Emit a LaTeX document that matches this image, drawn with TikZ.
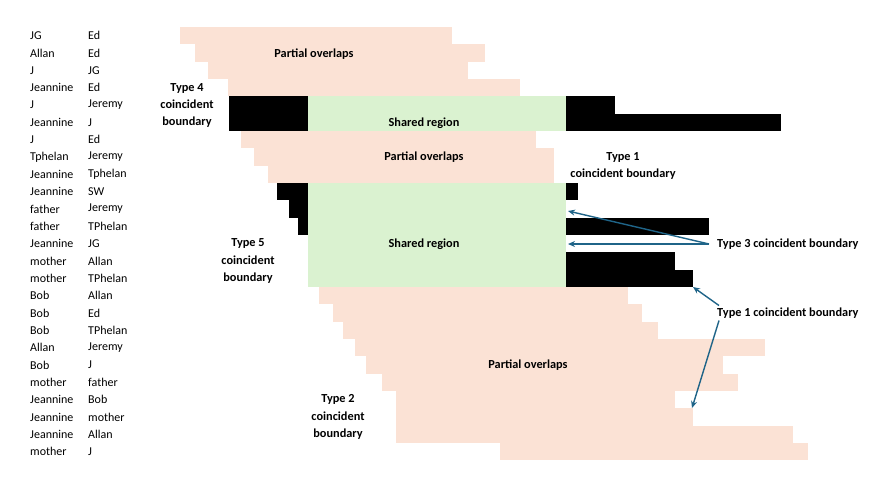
\documentclass[tikz,border=0pt]{standalone}
\usepackage{fontspec}
\setmainfont{Carlito}
\usetikzlibrary{arrows.meta}
\definecolor{cpink}{HTML}{FBE2D5}
\definecolor{cgreen}{HTML}{DAF2D0}
\definecolor{cblue}{HTML}{1F6488}
\tikzset{
  every picture/.style={x=1pt, y=-1pt},
  cell/.style={anchor=west, inner sep=0pt, font=\fontsize{12}{14}\selectfont},
  lbl/.style={font=\bfseries\fontsize{12.3}{17.33}\selectfont, align=center, inner sep=2pt},
  pointer/.style={-{Stealth[length=7pt, width=6pt]}, draw=cblue, line width=1.4pt},
}
\begin{document}
\begin{tikzpicture}
  \useasboundingbox (0,0) rectangle (890,485);
  % name pairs, one per row
  \foreach \a/\b [count=\i from 0] in {JG/Ed, Allan/Ed, J/JG, Jeannine/Ed, J/Jeremy, Jeannine/J, J/Ed, Tphelan/Jeremy, Jeannine/Tphelan, Jeannine/SW, father/Jeremy, father/TPhelan, Jeannine/JG, mother/Allan, mother/TPhelan, Bob/Allan, Bob/Ed, Bob/TPhelan, Allan/Jeremy, Bob/J, mother/father, Jeannine/Bob, Jeannine/mother, Jeannine/Allan, mother/J} {
    \node[cell] (from\i) at (30, {35.67+17.333*\i}) {\a};
    \node[cell] (to\i) at (88, {35.67+17.333*\i}) {\b};
  }
  % bars: row / start / end / colour
  \foreach \r/\x/\X/\c in {0/180/452/cpink, 1/195/485/cpink, 2/208/468/cpink, 3/228/520/cpink,
      4/229/308/black, 4/308/566/cgreen, 4/566/615/black, 5/229/308/black, 5/308/566/cgreen, 5/566/781/black,
      6/241/536/cpink, 7/254/554/cpink, 8/268/554/cpink,
      9/277/308/black, 9/308/566/cgreen, 9/566/578/black, 10/289/308/black, 10/308/566/cgreen,
      11/298/308/black, 11/308/566/cgreen, 11/566/709/black, 12/308/566/cgreen,
      13/308/566/cgreen, 13/566/675/black, 14/308/566/cgreen, 14/566/693/black,
      15/319/628/cpink, 16/333/642/cpink, 17/343/658/cpink, 18/355/765/cpink, 19/366/723/cpink,
      20/382/738/cpink, 21/396/675/cpink, 22/396/693/cpink, 23/396/793/cpink, 24/500/808/cpink}
    \fill[\c] (\x, {27+17.333*\r}) rectangle (\X, {27+17.333*(\r+1)});
  % region labels
  \node[lbl] (po1) at (314, 54) {Partial overlaps};
  \node[lbl] (sr1) at (424, 123) {Shared region};
  \node[lbl] (po2) at (424, 157) {Partial overlaps};
  \node[lbl] (sr2) at (424, 244) {Shared region};
  \node[lbl] (po3) at (528, 365) {Partial overlaps};
  % boundary labels
  \node[lbl] (ty4) at (187, 105.5) {Type 4\\coincident\\boundary};
  \node[lbl] (ty1a) at (623, 166) {Type 1\\coincident boundary};
  \node[lbl] (ty5) at (248, 261) {Type 5\\coincident\\boundary};
  \node[lbl] (ty2) at (338, 417) {Type 2\\coincident\\boundary};
  \node[lbl, anchor=west] (ty3) at (715, 244) {Type 3 coincident boundary};
  \node[lbl, anchor=west] (ty1b) at (715, 313) {Type 1 coincident boundary};
  % arrow targets
  \coordinate (gap10) at (568, 211);
  \coordinate (gap12) at (568, 244);
  \coordinate (edge14) at (693, 287);
  \coordinate (edge21) at (692, 408);
  \draw[pointer] ([xshift=-6pt]ty3.west) -- (gap10);
  \draw[pointer] ([xshift=-6pt]ty3.west) -- (gap12);
  \draw[pointer] ([xshift=4pt]ty1b.north west) -- (edge14);
  \draw[pointer] ([xshift=4pt]ty1b.south west) -- (edge21);
\end{tikzpicture}
\end{document}
